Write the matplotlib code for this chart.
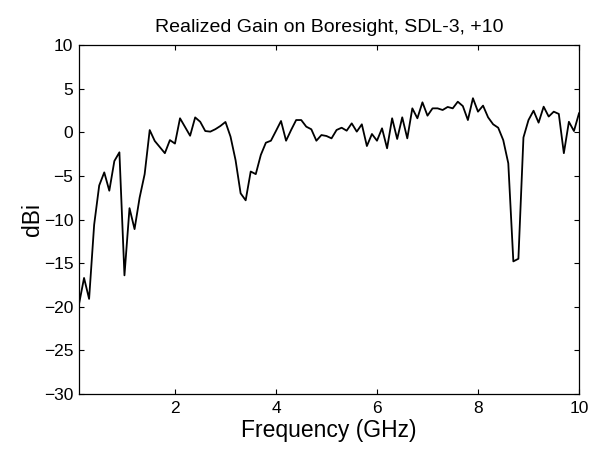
import matplotlib
matplotlib.use("Agg")
import matplotlib.pyplot as plt

plt.rcParams['font.family'] = ['Liberation Sans', 'DejaVu Sans']

freq_ghz = [0.1, 0.2, 0.3, 0.4, 0.5, 0.6, 0.7, 0.8, 0.9, 1.0,
            1.1, 1.2, 1.3, 1.4, 1.5, 1.6, 1.7, 1.8, 1.9, 2.0,
            2.1, 2.2, 2.3, 2.4, 2.5, 2.6, 2.7, 2.8, 2.9, 3.0,
            3.1, 3.2, 3.3, 3.4, 3.5, 3.6, 3.7, 3.8, 3.9, 4.0,
            4.1, 4.2, 4.3, 4.4, 4.5, 4.6, 4.7, 4.8, 4.9, 5.0,
            5.1, 5.2, 5.3, 5.4, 5.5, 5.6, 5.7, 5.8, 5.9, 6.0,
            6.1, 6.2, 6.3, 6.4, 6.5, 6.6, 6.7, 6.8, 6.9, 7.0,
            7.1, 7.2, 7.3, 7.4, 7.5, 7.6, 7.7, 7.8, 7.9, 8.0,
            8.1, 8.2, 8.3, 8.4, 8.5, 8.6, 8.7, 8.8, 8.9, 9.0,
            9.1, 9.2, 9.3, 9.4, 9.5, 9.6, 9.7, 9.8, 9.9, 10.0]

gain_dbi = [-19.7, -16.7, -19.1, -10.6, -6.1, -4.6, -6.7, -3.3, -2.3, -16.4,
            -8.7, -11.1, -7.5, -4.8, 0.25, -1.0, -1.7, -2.4, -0.9, -1.3,
            1.6, 0.6, -0.4, 1.7, 1.2, 0.14, 0.07, 0.35, 0.72, 1.18,
            -0.5, -3.2, -7.0, -7.8, -4.5, -4.8, -2.6, -1.2, -0.97, 0.15,
            1.29, -0.97, 0.26, 1.4, 1.4, 0.64, 0.34, -0.97, -0.32, -0.43,
            -0.7, 0.26, 0.52, 0.18, 1.02, 0.07, 0.91, -1.58, -0.2, -0.97,
            0.45, -1.84, 1.6, -0.77, 1.71, -0.7, 2.74, 1.6, 3.43, 1.9,
            2.74, 2.74, 2.55, 2.9, 2.74, 3.5, 3.0, 1.4, 3.9, 2.36,
            3.05, 1.71, 0.91, 0.52, -0.9, -3.56, -14.8, -14.5, -0.6, 1.4,
            2.47, 1.1, 2.93, 1.8, 2.36, 2.1, -2.4, 1.2, 0.14, 2.17]

x_ticks = [2, 4, 6, 8, 10]
y_ticks = [-30, -25, -20, -15, -10, -5, 0, 5, 10]

fig = plt.figure(figsize=(5.96, 4.5), dpi=100)
ax = fig.add_axes([79/596, 1 - 394/450, 500/596, 349/450])
ax.plot(freq_ghz, gain_dbi, color='black', linewidth=1.3)

ax.set_xlim(0.1, 10)
ax.set_ylim(-30, 10)
ax.set_xticks(x_ticks)
ax.set_yticks(y_ticks)
ax.tick_params(direction='in', top=True, right=True, length=3.5, width=0.8,
               labelsize=12.5, colors='black')
ax.tick_params(axis='x', pad=5)
ax.tick_params(axis='y', pad=4)
for s in ax.spines.values():
    s.set_linewidth(0.9)
    s.set_color('black')

ax.set_title('Realized Gain on Boresight, SDL-3, +10', fontsize=14, pad=9)
ax.set_xlabel('Frequency (GHz)', fontsize=16.5, labelpad=2)
ax.set_ylabel('dBi', fontsize=16.5, labelpad=0)

fig.savefig('out.png', dpi=100, facecolor='white')
